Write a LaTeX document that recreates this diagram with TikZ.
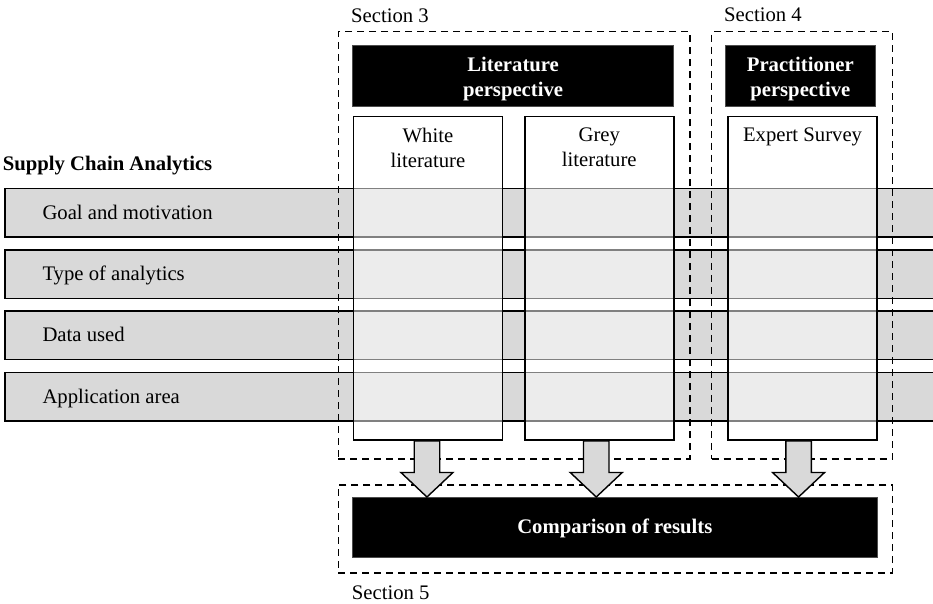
\documentclass[tikz,border=0pt]{standalone}
\usepackage{fontspec}
\setmainfont{Liberation Serif}
\usetikzlibrary{calc}
\definecolor{bandgrey}{HTML}{D9D9D9}
\tikzset{
  txt/.style={inner sep=0pt, font=\fontsize{20.7}{25}\selectfont, text=black},
  hdrtxt/.style={inner sep=0pt, align=center, font=\fontsize{20.7}{25}\selectfont\bfseries, text=white},
  band/.style={draw=black, line width=1.5pt, fill=bandgrey, rectangle, inner sep=0pt, anchor=north west, minimum width=940, minimum height=48.5},
  wbox/.style={draw=black, line width=1.5pt, fill=white, fill opacity=0.5, rectangle, inner sep=0pt, anchor=north west, minimum width=149, minimum height=323.3},
  hdr/.style={fill=black, draw=black!70, line width=0.6pt, rectangle, inner sep=0pt, anchor=north west, minimum height=60.7},
  dbox/.style={draw=black, line width=1.5pt, dash pattern=on 7pt off 5pt, rectangle, inner sep=0pt, anchor=north west},
  arr/.style={draw=black, line width=1.4pt, fill=bandgrey, line join=miter},
}
\newcommand\blockarr[3]{%
  \draw[arr] let \p1=($(#1.south)+(#3,0)$), \p2=(#2.north) in
    (\x1-12.75pt,\y1) -- (\x1-12.75pt,\y2+24.5pt) -- (\x1-26pt,\y2+24.5pt) -- (\x1,\y2)
    -- (\x1+26pt,\y2+24.5pt) -- (\x1+12.75pt,\y2+24.5pt) -- (\x1+12.75pt,\y1) -- cycle;}
\begin{document}
\begin{tikzpicture}[x=1pt,y=-1pt]
\useasboundingbox (0,0) rectangle (933,604);
% title
\node[txt, anchor=base west, font=\fontsize{20.7}{25}\selectfont\bfseries] (sca) at (2.7,170.7) {Supply Chain Analytics};
% bands
\node[band] (b1) at (4.3,187.7) {};
\node[band] (b2) at (4.3,249.0) {};
\node[band] (b3) at (4.3,310.3) {};
\node[band] (b4) at (4.3,371.7) {};
\node[txt, anchor=base west] (t1) at ($(b1.north west)+(38,31.3)$) {Goal and motivation};
\node[txt, anchor=base west] (t2) at ($(b2.north west)+(38,31.3)$) {Type of analytics};
\node[txt, anchor=base west] (t3) at ($(b3.north west)+(38,31.3)$) {Data used};
\node[txt, anchor=base west] (t4) at ($(b4.north west)+(38,31.3)$) {Application area};
% columns
\node[wbox] (wl) at (352.7,116) {};
\node[wbox] (gl) at (524.0,116) {};
\node[wbox] (es) at (727.3,116) {};
\node[txt, anchor=north, align=center] (wlT) at ($(wl.north)+(0,11.8)$) {White\\literature};
\node[txt, anchor=north, align=center] (glT) at ($(gl.north)+(0,11.8)$) {Grey\\literature};
\node[txt, anchor=north, align=center] (esT) at ($(es.north)+(0,11.8)$) {Expert Survey};
% headers
\node[hdr, minimum width=321] (lit) at (352.3,45.3) {};
\node[hdr, minimum width=150] (prac) at (725.0,45.3) {};
\node[hdrtxt] (litT) at ($(lit.center)+(0,3.5)$) {Literature\\perspective};
\node[hdrtxt] (pracT) at ($(prac.center)+(0,3.5)$) {Practitioner\\perspective};
% dashed section boxes
\node[dbox, minimum width=351.3, minimum height=427] (s3) at (337.7,31) {};
\node[dbox, minimum width=181, minimum height=427] (s4) at (710.8,31) {};
\node[dbox, minimum width=554, minimum height=88] (s5) at (337.7,484.3) {};
\node[txt, anchor=base west] (s3T) at (351,22.7) {Section 3};
\node[txt, anchor=base west] (s4T) at (724,21.7) {Section 4};
\node[txt, anchor=base west] (s5T) at (351.7,599) {Section 5};
% comparison
\node[hdr, minimum width=524.5, minimum height=59.7] (cmp) at (352.3,497) {};
\node[hdrtxt] (cmpT) at ($(cmp.center)+(0,1)$) {Comparison of results};
% arrows
\blockarr{wl}{cmp}{-1}
\blockarr{gl}{cmp}{-3}
\blockarr{es}{cmp}{-4}
\end{tikzpicture}
\end{document}
